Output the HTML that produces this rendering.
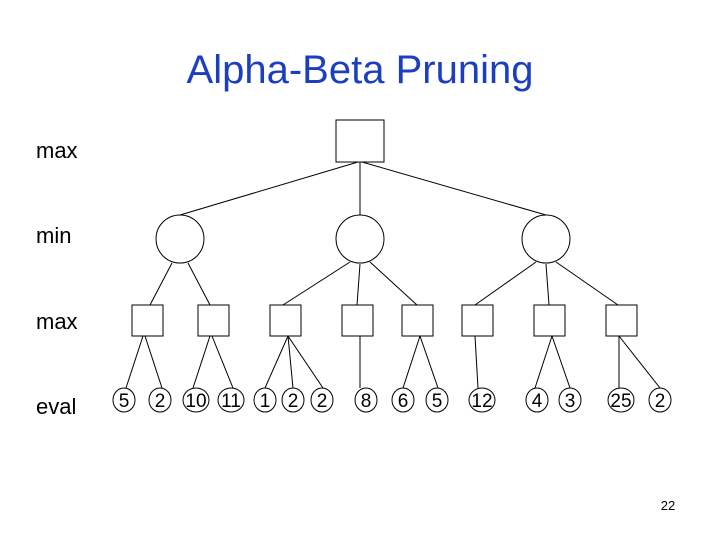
<!DOCTYPE html>
<html><head><style>
body{margin:0;width:720px;height:540px;background:#fff;overflow:hidden}
</style></head><body>
<svg width="720" height="540" xmlns="http://www.w3.org/2000/svg" font-family="Liberation Sans, Arial, sans-serif">
<text x="360" y="83" text-anchor="middle" font-size="40" fill="#1c3fbf">Alpha-Beta Pruning</text>
<g font-size="22" fill="#000">
<text x="36" y="158">max</text>
<text x="36" y="243">min</text>
<text x="36" y="329">max</text>
<text x="36" y="414">eval</text>
</g>
<text x="668" y="510" text-anchor="middle" font-size="13">22</text>
<g stroke="#000" stroke-width="1" fill="none">
<line x1="358" y1="162" x2="180" y2="215"/>
<line x1="360" y1="162" x2="360" y2="215"/>
<line x1="362" y1="162" x2="546" y2="215"/>
<line x1="172" y1="263" x2="150" y2="305"/>
<line x1="188" y1="263" x2="210" y2="305"/>
<line x1="350" y1="262" x2="283" y2="305"/>
<line x1="360" y1="264" x2="357" y2="305"/>
<line x1="370" y1="262" x2="417" y2="305"/>
<line x1="536" y1="262" x2="475" y2="305"/>
<line x1="546" y1="264" x2="549" y2="305"/>
<line x1="556" y1="262" x2="618" y2="305"/>
<line x1="143" y1="336" x2="126" y2="388"/>
<line x1="145" y1="336" x2="162" y2="388"/>
<line x1="210" y1="336" x2="193" y2="388"/>
<line x1="212" y1="336" x2="233" y2="388"/>
<line x1="288" y1="336" x2="265" y2="388"/>
<line x1="288" y1="336" x2="293" y2="388"/>
<line x1="288" y1="336" x2="323" y2="388"/>
<line x1="360" y1="336" x2="360" y2="388"/>
<line x1="420" y1="336" x2="403" y2="388"/>
<line x1="420" y1="336" x2="438" y2="388"/>
<line x1="475" y1="336" x2="478" y2="388"/>
<line x1="552" y1="336" x2="535" y2="388"/>
<line x1="552" y1="336" x2="570" y2="388"/>
<line x1="619" y1="336" x2="619" y2="388"/>
<line x1="619" y1="336" x2="660" y2="388"/>
<rect x="336" y="120" width="48" height="42" fill="#fff"/>
<ellipse cx="180" cy="239" rx="24" ry="24" fill="#fff"/>
<ellipse cx="360" cy="239" rx="24" ry="24" fill="#fff"/>
<ellipse cx="546" cy="239" rx="24" ry="24" fill="#fff"/>
<rect x="132" y="305" width="31" height="31" fill="#fff"/>
<rect x="198" y="305" width="31" height="31" fill="#fff"/>
<rect x="270" y="305" width="31" height="31" fill="#fff"/>
<rect x="342" y="305" width="31" height="31" fill="#fff"/>
<rect x="402" y="305" width="31" height="31" fill="#fff"/>
<rect x="462" y="305" width="31" height="31" fill="#fff"/>
<rect x="534" y="305" width="31" height="31" fill="#fff"/>
<rect x="606" y="305" width="31" height="31" fill="#fff"/>
</g>
<g stroke="#000" fill="#fff">
<ellipse cx="124" cy="400" rx="11" ry="12"/>
<ellipse cx="160" cy="400" rx="11" ry="12"/>
<ellipse cx="196" cy="400" rx="13" ry="12"/>
<ellipse cx="231" cy="400" rx="13" ry="12"/>
<ellipse cx="265" cy="400" rx="11" ry="12"/>
<ellipse cx="293" cy="400" rx="11" ry="12"/>
<ellipse cx="322" cy="400" rx="11" ry="12"/>
<ellipse cx="366" cy="400" rx="11" ry="12"/>
<ellipse cx="403" cy="400" rx="11" ry="12"/>
<ellipse cx="437" cy="400" rx="11" ry="12"/>
<ellipse cx="482" cy="400" rx="13" ry="12"/>
<ellipse cx="537" cy="400" rx="11" ry="12"/>
<ellipse cx="570" cy="400" rx="11" ry="12"/>
<ellipse cx="621" cy="400" rx="13" ry="12"/>
<ellipse cx="660" cy="400" rx="11" ry="12"/>
</g>
<g font-size="19" text-anchor="middle" fill="#000">
<text x="124" y="407">5</text>
<text x="160" y="407">2</text>
<text x="196" y="407">10</text>
<text x="231" y="407">11</text>
<text x="265" y="407">1</text>
<text x="293" y="407">2</text>
<text x="322" y="407">2</text>
<text x="366" y="407">8</text>
<text x="403" y="407">6</text>
<text x="437" y="407">5</text>
<text x="482" y="407">12</text>
<text x="537" y="407">4</text>
<text x="570" y="407">3</text>
<text x="621" y="407">25</text>
<text x="660" y="407">2</text>
</g>
</svg>
</body></html>
